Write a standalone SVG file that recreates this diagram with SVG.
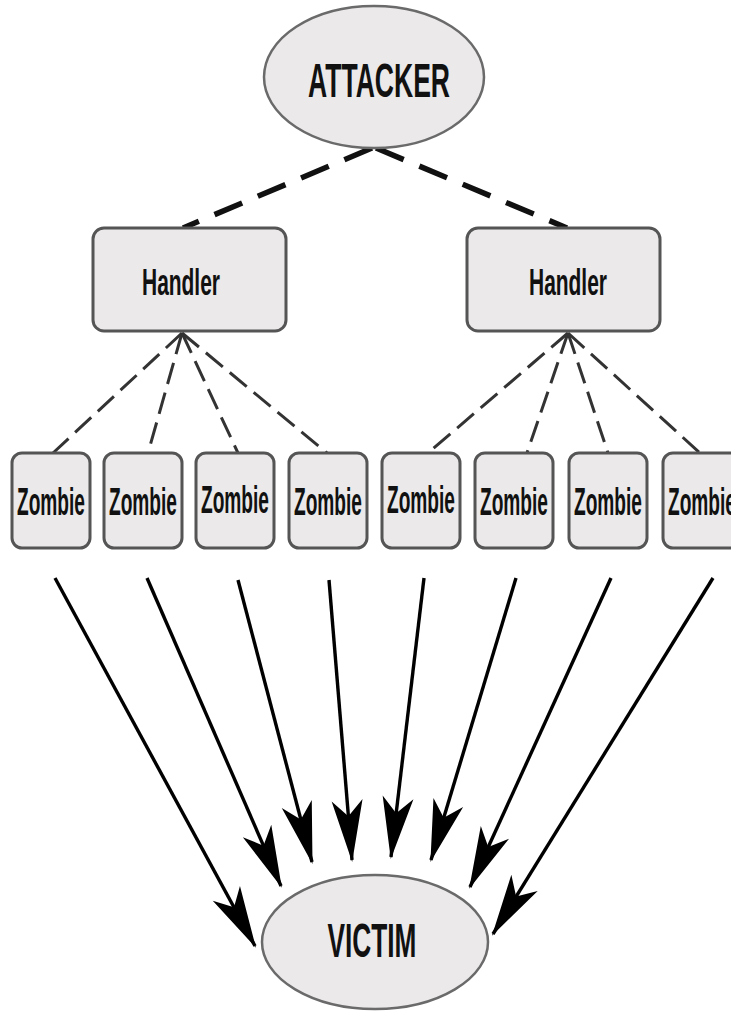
<svg xmlns="http://www.w3.org/2000/svg" width="731" height="1011" viewBox="0 0 731 1011">
<style>
.ell{fill:#ebe9e9;stroke:#6a6a6a;stroke-width:2.5}
.box{fill:#ebe9e9;stroke:#555;stroke-width:3}
.t{font-family:"Liberation Sans",Arial,sans-serif;font-weight:bold;fill:#111;text-anchor:middle}
.big{font-size:48px}
.hd{font-size:37px}
.zb{font-size:25px}
.top{stroke:#111;stroke-width:5.5;stroke-dasharray:30 17;fill:none}
.mid{stroke:#333;stroke-width:3;stroke-dasharray:22 9;fill:none}
.arr{stroke:#000;stroke-width:3.4;fill:none;marker-end:url(#ah)}
</style>
<defs>
<marker id="ah" markerUnits="userSpaceOnUse" markerWidth="70" markerHeight="40" viewBox="-62 -20 66 40" refX="0" refY="0" orient="auto">
<path d="M2,0 L-60,-15.5 L-44,0 L-60,15.5 Z" fill="#000"/>
</marker>
</defs>
<rect width="731" height="1011" fill="#fff"/>
<g id="connectors">
<line class="top" x1="372" y1="148" x2="183" y2="228"/>
<line class="top" x1="376" y1="148" x2="567" y2="228"/>
<line class="mid" x1="182" y1="333" x2="53" y2="453"/>
<line class="mid" x1="182" y1="333" x2="148" y2="453" stroke-dasharray="40 10"/>
<line class="mid" x1="182" y1="333" x2="238" y2="453"/>
<line class="mid" x1="182" y1="333" x2="327" y2="453"/>
<line class="mid" x1="568" y1="333" x2="428" y2="453"/>
<line class="mid" x1="568" y1="333" x2="527" y2="453" stroke-dasharray="30 12"/>
<line class="mid" x1="568" y1="333" x2="608" y2="453" stroke-dasharray="30 12"/>
<line class="mid" x1="568" y1="333" x2="700" y2="453"/>
<line class="arr" x1="55" y1="578" x2="255" y2="946"/>
<line class="arr" x1="147" y1="578" x2="281" y2="886"/>
<line class="arr" x1="238" y1="580" x2="312" y2="862"/>
<line class="arr" x1="329" y1="580" x2="352" y2="860"/>
<line class="arr" x1="424" y1="578" x2="391" y2="857"/>
<line class="arr" x1="516" y1="578" x2="431" y2="860"/>
<line class="arr" x1="611" y1="578" x2="470" y2="887"/>
<line class="arr" x1="713" y1="578" x2="493" y2="934"/>
</g>
<g id="attacker">
<ellipse class="ell" cx="374" cy="77" rx="110" ry="71"/>
<text class="t big" x="379" y="97" textLength="142" lengthAdjust="spacingAndGlyphs">ATTACKER</text>
</g>
<g id="handler1">
<rect class="box" x="93" y="228" width="193" height="103" rx="11"/>
<text class="t hd" x="181" y="295" textLength="78" lengthAdjust="spacingAndGlyphs">Handler</text>
</g>
<g id="handler2">
<rect class="box" x="467" y="228" width="193" height="103" rx="11"/>
<text class="t hd" x="568" y="295" textLength="78" lengthAdjust="spacingAndGlyphs">Handler</text>
</g>
<g id="zombie1"><rect class="box" x="12" y="453" width="78" height="95" rx="10"/><text class="t zb" transform="translate(51,515) scale(1,1.52)" textLength="68" lengthAdjust="spacingAndGlyphs">Zombie</text></g>
<g id="zombie2"><rect class="box" x="104" y="453" width="78" height="95" rx="10"/><text class="t zb" transform="translate(143,515) scale(1,1.52)" textLength="68" lengthAdjust="spacingAndGlyphs">Zombie</text></g>
<g id="zombie3"><rect class="box" x="196" y="453" width="78" height="95" rx="10"/><text class="t zb" transform="translate(235,513) scale(1,1.52)" textLength="68" lengthAdjust="spacingAndGlyphs">Zombie</text></g>
<g id="zombie4"><rect class="box" x="289" y="453" width="78" height="95" rx="10"/><text class="t zb" transform="translate(328,515) scale(1,1.52)" textLength="68" lengthAdjust="spacingAndGlyphs">Zombie</text></g>
<g id="zombie5"><rect class="box" x="382" y="453" width="78" height="95" rx="10"/><text class="t zb" transform="translate(421,513) scale(1,1.52)" textLength="68" lengthAdjust="spacingAndGlyphs">Zombie</text></g>
<g id="zombie6"><rect class="box" x="475" y="453" width="78" height="95" rx="10"/><text class="t zb" transform="translate(514,515) scale(1,1.52)" textLength="68" lengthAdjust="spacingAndGlyphs">Zombie</text></g>
<g id="zombie7"><rect class="box" x="569" y="453" width="78" height="95" rx="10"/><text class="t zb" transform="translate(608,515) scale(1,1.52)" textLength="68" lengthAdjust="spacingAndGlyphs">Zombie</text></g>
<g id="zombie8"><rect class="box" x="663" y="453" width="78" height="95" rx="10"/><text class="t zb" transform="translate(702,515) scale(1,1.52)" textLength="68" lengthAdjust="spacingAndGlyphs">Zombie</text></g>
<g id="victim">
<ellipse class="ell" cx="375" cy="942" rx="113" ry="67"/>
<text class="t big" x="372" y="957" textLength="89" lengthAdjust="spacingAndGlyphs">VICTIM</text>
</g>
</svg>
